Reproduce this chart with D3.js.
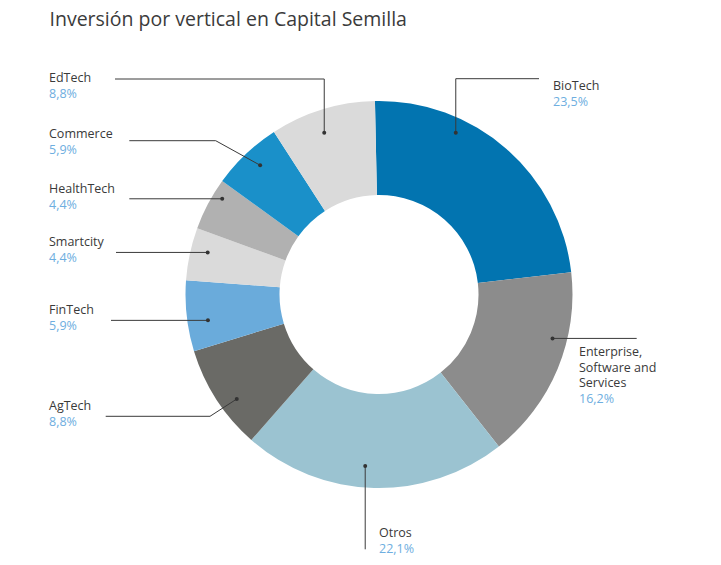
<!DOCTYPE html>
<html>
<head>
<meta charset="utf-8">
<script src="https://cdn.jsdelivr.net/npm/d3@7"></script>
<style>
  html, body { margin: 0; padding: 0; background: #ffffff; }
  svg { display: block; }
</style>
</head>
<body>
<svg id="chart" width="721" height="565"></svg>
<script>
// ---- Data ----
const title = "Inversión por vertical en Capital Semilla";
const categories = ["BioTech", "Enterprise, Software and Services", "Otros", "AgTech", "FinTech", "Smartcity", "HealthTech", "Commerce", "EdTech"];
const values = [23.5, 16.2, 22.1, 8.8, 5.9, 4.4, 4.4, 5.9, 8.8];
const colors = ["#0274b0", "#8c8c8c", "#9bc3d1", "#6a6a66", "#6aabdb", "#dadada", "#b1b1b1", "#1a90c9", "#dadada"];

// ---- Layout (annotation placement) ----
const labelLines = [["BioTech"], ["Enterprise,", "Software and", "Services"], ["Otros"], ["AgTech"], ["FinTech"], ["Smartcity"], ["HealthTech"], ["Commerce"], ["EdTech"]];
const labelPos = [[553, 90], [579, 356], [379, 537], [49, 410], [49, 314], [49, 246], [49, 193], [49, 138], [49, 82]];
const dotAngle = [25.4, 104.2, 184.6, 233.7, 261.4, 283.8, 301.4, 317.4, 341.3];
const dotRadius = [179, 179, 172, 176.5, 173, 176.4, 183.7, 175.6, 170.8];
// leader: type, then parameters
const leaders = [
  {type: "vh", endX: 539, endY: 78.7},
  {type: "h", endX: 636.7},
  {type: "v", endY: 549.3},
  {type: "dh", elbowX: 210, elbowY: 416.3, endX: 105.7},
  {type: "h", endX: 111},
  {type: "h", endX: 116},
  {type: "h", endX: 129.3},
  {type: "dh", elbowX: 215.7, elbowY: 140.7, endX: 129.3},
  {type: "vh", endX: 115, endY: 79}
];

const cx = 379, cy = 294.5, outerR = 193.5, innerR = 99.5;
const startDeg = -1.2;

const svg = d3.select("#chart");
const fmt = d3.formatLocale({decimal: ",", thousands: ".", grouping: [3], currency: ["", "€"]}).format(".1f");

svg.append("text")
  .attr("x", 49.5).attr("y", 26)
  .attr("font-family", "'Open Sans', sans-serif")
  .attr("font-size", 19.5)
  .attr("fill", "#3b3b3b")
  .text(title);

const data = categories.map((c, i) => ({name: c, value: values[i], i}));
const rad = d => d * Math.PI / 180;
const pie = d3.pie().value(d => d.value).sort(null)
  .startAngle(rad(startDeg)).endAngle(rad(startDeg) + 2 * Math.PI);
const arc = d3.arc().innerRadius(innerR).outerRadius(outerR);

const g = svg.append("g").attr("transform", `translate(${cx},${cy})`);
g.selectAll("path.slice").data(pie(data)).join("path")
  .attr("class", "slice")
  .attr("d", arc)
  .attr("fill", d => colors[d.data.i]);

// leaders & dots
const ann = svg.append("g");
data.forEach((d, i) => {
  const p = d3.pointRadial(rad(dotAngle[i]), dotRadius[i]);
  const dx = cx + p[0], dy = cy + p[1];
  const L = leaders[i];
  let pts;
  if (L.type === "h") pts = [[dx, dy], [L.endX, dy]];
  else if (L.type === "v") pts = [[dx, dy], [dx, L.endY]];
  else if (L.type === "vh") pts = [[dx, dy], [dx, L.endY], [L.endX, L.endY]];
  else pts = [[dx, dy], [L.elbowX, L.elbowY], [L.endX, L.elbowY]];
  ann.append("path")
    .attr("d", d3.line()(pts))
    .attr("fill", "none")
    .attr("stroke", "#3a3a3a")
    .attr("stroke-width", 1);
  ann.append("circle").attr("cx", dx).attr("cy", dy).attr("r", 2).attr("fill", "#333");

  const [lx, ly] = labelPos[i];
  const t = ann.append("text")
    .attr("font-family", "'Open Sans', sans-serif")
    .attr("font-size", 12.5);
  labelLines[i].forEach((line, k) => {
    t.append("tspan").attr("x", lx).attr("y", ly + k * 15.5).attr("fill", "#3a3a3a").text(line);
  });
  t.append("tspan").attr("x", lx).attr("y", ly + (labelLines[i].length - 1) * 15.5 + 16)
    .attr("fill", "#6eaee0").text(fmt(d.value) + "%");
});
</script>
</body>
</html>
